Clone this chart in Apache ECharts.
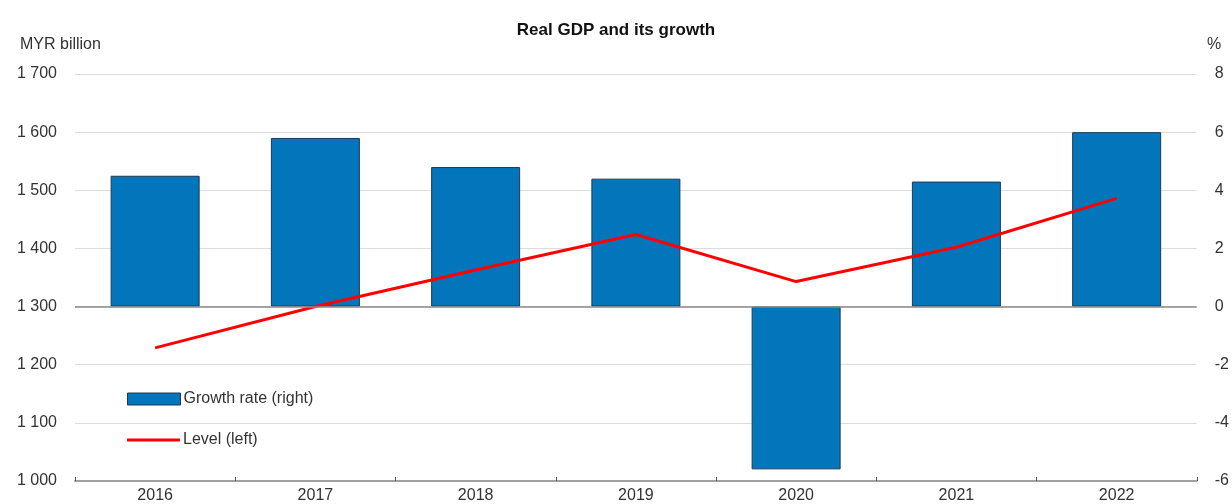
<!DOCTYPE html>
<html>
<head>
<meta charset="utf-8">
<script src="https://cdn.jsdelivr.net/npm/echarts@6/dist/echarts.min.js"></script>
<style>html,body{margin:0;padding:0;background:#fff}#c{width:1232px;height:504px}</style>
</head>
<body>
<div id="c"></div>
<script>
const categories = ['2016', '2017', '2018', '2019', '2020', '2021', '2022'];
const growthRate = [4.5, 5.8, 4.8, 4.4, -5.6, 4.3, 6.0];
const level = [1229, 1300, 1363, 1424, 1343, 1402, 1486];
const leftTicks = {min: 1000, max: 1700, interval: 100};
const rightTicks = {min: -6, max: 8, interval: 2};
const titleText = 'Real GDP and its growth';
const leftUnit = 'MYR billion';
const rightUnit = '%';
const seriesNames = ['Growth rate (right)', 'Level (left)'];

const FONT = 'Liberation Sans, Arial, sans-serif';
const chart = echarts.init(document.getElementById('c'));
const legendText = {fontFamily: FONT, fontSize: 16, color: '#333', padding: [0, 0, 0, -2]};
chart.setOption({
  animation: false,
  backgroundColor: '#ffffff',
  title: [
    {text: titleText, left: 'center', top: 17, textStyle: {fontFamily: FONT, fontSize: 17, fontWeight: 'bold', color: '#111'}},
    {text: leftUnit, left: 15, top: 32, textStyle: {fontFamily: FONT, fontSize: 16, fontWeight: 'normal', color: '#333'}},
    {text: rightUnit, left: 1202, top: 32, textStyle: {fontFamily: FONT, fontSize: 16, fontWeight: 'normal', color: '#333'}}
  ],
  grid: {left: 75, right: 35, top: 74, bottom: 22, containLabel: false},
  legend: [
    {
      left: 122, top: 386, itemWidth: 53, itemHeight: 12,
      textStyle: legendText,
      data: [{name: seriesNames[0], icon: 'rect', itemStyle: {borderWidth: 1, borderColor: '#1d3a55'}}]
    },
    {
      left: 122, top: 427, itemWidth: 53, itemHeight: 3,
      textStyle: legendText,
      data: [{name: seriesNames[1], icon: 'rect', itemStyle: {color: '#ff0000', borderWidth: 0}}]
    }
  ],
  xAxis: {
    type: 'category', data: categories, boundaryGap: true,
    axisLine: {onZero: false, lineStyle: {color: '#a0a0a0', width: 2}},
    axisTick: {show: true, inside: true, length: 4, lineStyle: {color: '#555'}},
    axisLabel: {fontFamily: FONT, fontSize: 16, color: '#333', margin: 7},
    splitLine: {show: false}
  },
  yAxis: [
    {
      type: 'value', position: 'left', min: leftTicks.min, max: leftTicks.max, interval: leftTicks.interval,
      axisLine: {show: false}, axisTick: {show: false},
      axisLabel: {fontFamily: FONT, fontSize: 16, color: '#333', margin: 18,
        formatter: v => { const s = String(v); return s.length > 3 ? s.slice(0, s.length - 3) + ' ' + s.slice(-3) : s; }},
      splitLine: {show: true, lineStyle: {color: '#dcdcdc', width: 1}}
    },
    {
      type: 'value', position: 'right', min: rightTicks.min, max: rightTicks.max, interval: rightTicks.interval,
      axisLine: {show: false}, axisTick: {show: false},
      axisLabel: {fontFamily: FONT, fontSize: 16, color: '#333', margin: 18, align: 'left'},
      splitLine: {show: false}
    }
  ],
  series: [
    {
      name: seriesNames[0], type: 'bar', yAxisIndex: 1, data: growthRate, barWidth: 89,
      itemStyle: {color: '#0275bb', borderColor: '#1d3a55', borderWidth: 1},
      markLine: {silent: true, symbol: 'none', label: {show: false},
        lineStyle: {color: '#8a8a8a', width: 1.5, type: 'solid'}, data: [{yAxis: 0}]},
      z: 2
    },
    {
      name: seriesNames[1], type: 'line', yAxisIndex: 0, data: level, symbol: 'none',
      lineStyle: {color: '#ff0000', width: 3}, itemStyle: {color: '#ff0000'}, z: 4
    }
  ]
});
</script>
</body>
</html>
